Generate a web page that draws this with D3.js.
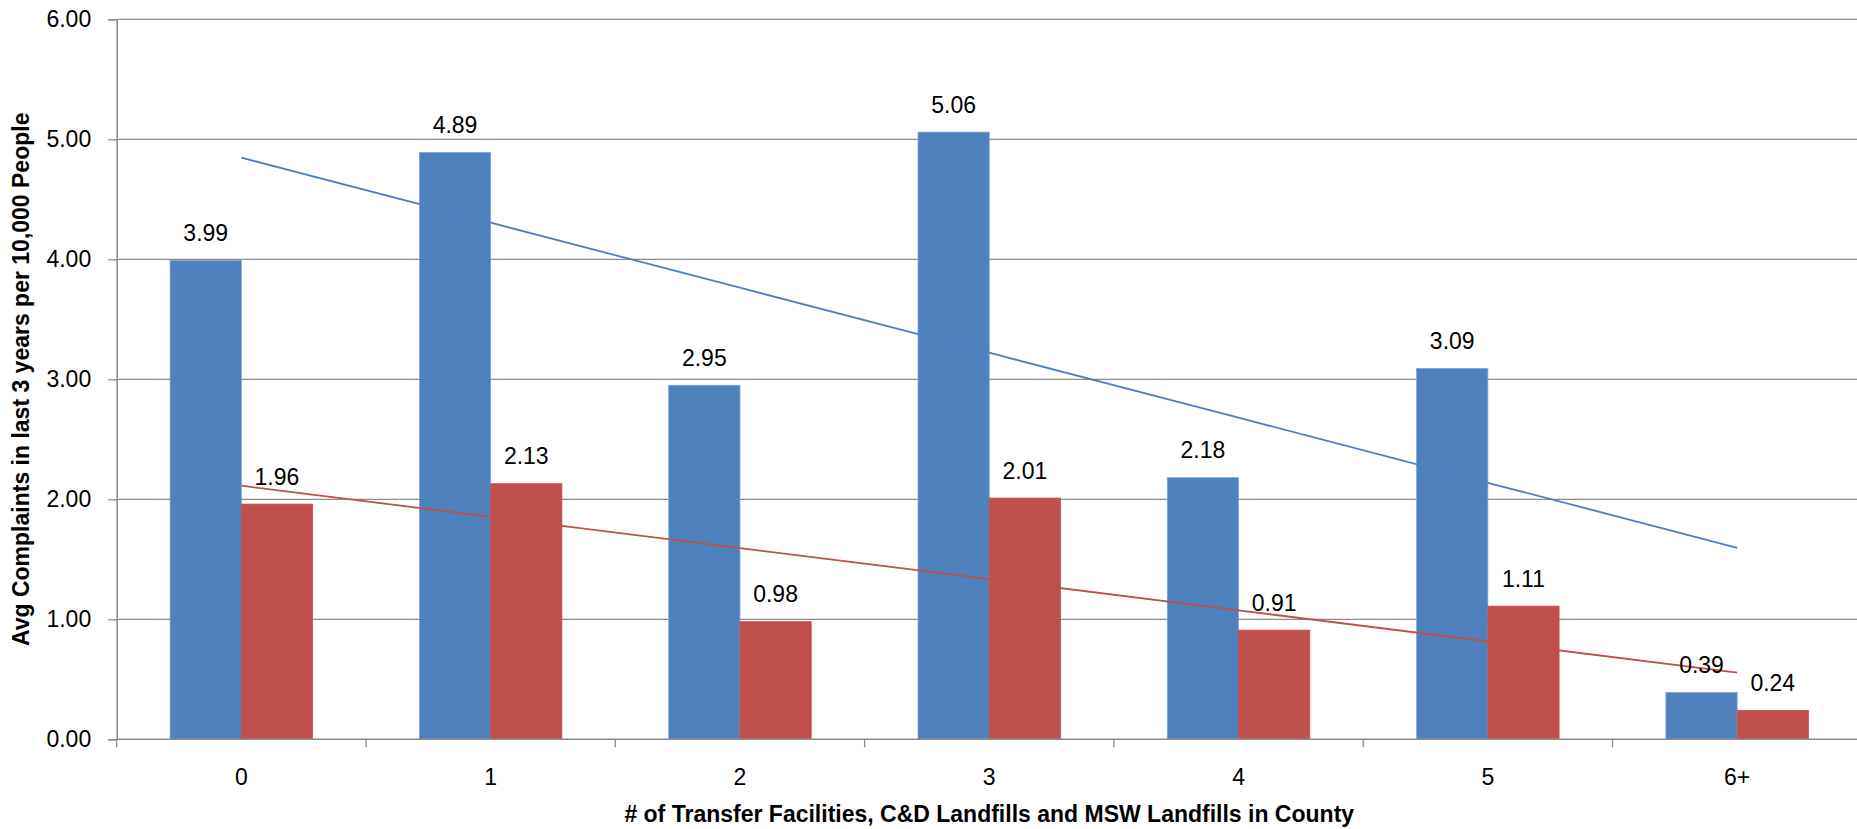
<!DOCTYPE html>
<html>
<head>
<meta charset="utf-8">
<script src="https://cdn.jsdelivr.net/npm/d3@7"></script>
<style>
    body { margin: 0; background: #fff; }
    text { font-family: "Liberation Sans", Arial, sans-serif; }
</style>
</head>
<body>
<svg id="chart" width="1857" height="829"></svg>
<script>
const categories = ['0', '1', '2', '3', '4', '5', '6+']
const seriesA    = [3.99, 4.89, 2.95, 5.06, 2.18, 3.09, 0.39]
const seriesB    = [1.96, 2.13, 0.98, 2.01, 0.91, 1.11, 0.24]
const yTicks     = [0, 1, 2, 3, 4, 5, 6]
const colors     = ['#4F81BD', '#C0504D']
const edges      = ['#7EA3D1', '#C0504D']

const xTitle = '# of Transfer Facilities, C&D Landfills and MSW Landfills in County'
const yTitle = 'Avg Complaints in last 3 years per 10,000 People'

const svg     = d3.select('#chart')
const plotL   = 116.7
const plotT   = 19.3
const plotB   = 739.3
const band    = 249.3

const x = d3.scaleBand()
    .domain(categories)
    .range([plotL, plotL + band * categories.length])

const gap = x.bandwidth() * 1.5 / 3.5
const x1  = d3.scaleBand()
    .domain([0, 1])
    .range([gap / 2, x.bandwidth() - gap / 2])

const y = d3.scaleLinear()
    .domain([0, 6])
    .range([plotB, plotT])

// gridlines
svg.append('g')
    .selectAll('line')
    .data(yTicks.slice(1))
    .join('line')
        .attr('x1', plotL)
        .attr('x2', 1857)
        .attr('y1', d => y(d))
        .attr('y2', d => y(d))
        .attr('stroke', '#8c8c8c')
        .attr('stroke-width', 1.3)

// bars
const series = [seriesA, seriesB]

svg.append('g')
    .selectAll('g')
    .data(series)
    .join('g')
    .each(function (values, s) {
        const el = d3.select(this)

        el.selectAll('rect')
            .data(values)
            .join('rect')
                .attr('x', (d, i) => x(categories[i]) + x1(s))
                .attr('y', d => y(d))
                .attr('width', x1.bandwidth())
                .attr('height', d => plotB - y(d))
                .attr('fill', colors[s])
                .attr('stroke', edges[s])
                .attr('stroke-width', 0.8)
    })

// linear trendlines
const fit = values => {
    const xs = values.map((d, i) => i + 1)
    const mx = d3.mean(xs)
    const my = d3.mean(values)
    const slope = d3.sum(values, (d, i) => (xs[i] - mx) * (d - my)) /
                  d3.sum(xs, v => (v - mx) ** 2)
    return values.map((d, i) => my + slope * (xs[i] - mx))
}

const trendLine = d3.line()
    .x((d, i) => x(categories[i]) + x.bandwidth() / 2)
    .y(d => y(d))

series.forEach((values, s) => {
    svg.append('path')
        .datum(fit(values))
        .attr('d', trendLine)
        .attr('fill', 'none')
        .attr('stroke', colors[s])
        .attr('stroke-width', 1.8)
})

// value labels
series.forEach((values, s) => {
    svg.append('g')
        .selectAll('text')
        .data(values)
        .join('text')
            .attr('x', (d, i) => x(categories[i]) + x1(s) + x1.bandwidth() / 2)
            .attr('y', d => y(d) - 19.5)
            .attr('text-anchor', 'middle')
            .style('font-size', '23px')
            .attr('fill', '#000')
            .text(d => d.toFixed(2))
})

// y axis
const yAxis = svg.append('g')
    .attr('transform', `translate(${plotL},0)`)
    .call(d3.axisLeft(y)
        .tickValues(yTicks)
        .tickFormat(d3.format('.2f'))
        .tickSize(8.5)
        .tickPadding(17))

yAxis.select('.domain').attr('stroke', '#8c8c8c').attr('stroke-width', 1.6)
yAxis.selectAll('.tick line').attr('stroke', '#8c8c8c').attr('stroke-width', 1.3)
yAxis.selectAll('.tick text')
    .style('font-size', '23px')
    .style('font-family', '"Liberation Sans", Arial, sans-serif')
    .attr('fill', '#000')

// x axis
const xAxis = svg.append('g')
    .attr('transform', `translate(0,${plotB})`)
    .call(d3.axisBottom(x).tickSize(0).tickPadding(29))

xAxis.select('.domain').remove()
xAxis.selectAll('.tick text')
    .style('font-size', '23px')
    .style('font-family', '"Liberation Sans", Arial, sans-serif')
    .attr('fill', '#000')

xAxis.append('line')
    .attr('x1', plotL)
    .attr('x2', 1857)
    .attr('stroke', '#8c8c8c')
    .attr('stroke-width', 1.6)

xAxis.selectAll('.boundary')
    .data(categories)
    .join('line')
        .attr('class', 'boundary')
        .attr('x1', d => x(d))
        .attr('x2', d => x(d))
        .attr('y1', 0)
        .attr('y2', 8)
        .attr('stroke', '#8c8c8c')
        .attr('stroke-width', 1.3)

// titles
svg.append('text')
    .attr('x', (plotL + 1861.8) / 2)
    .attr('y', 822)
    .attr('text-anchor', 'middle')
    .style('font-size', '23px')
    .style('font-weight', 'bold')
    .text(xTitle)

svg.append('text')
    .attr('transform', `translate(29,${(plotT + plotB) / 2}) rotate(-90)`)
    .attr('text-anchor', 'middle')
    .style('font-size', '23px')
    .style('font-weight', 'bold')
    .text(yTitle)
</script>
</body>
</html>
